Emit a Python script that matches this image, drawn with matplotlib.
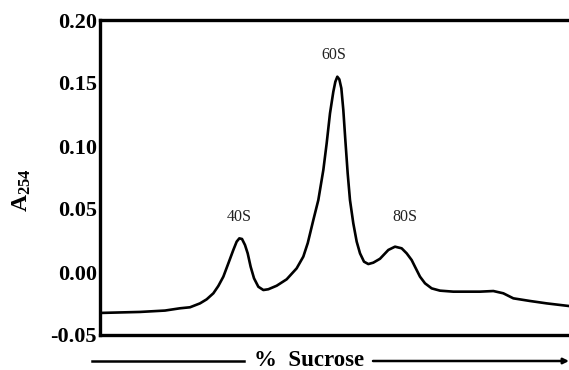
"""Sucrose gradient profile (A254) with 40S / 60S / 80S peaks."""

import numpy as np
import matplotlib
matplotlib.use("Agg")
import matplotlib.pyplot as plt
from matplotlib import rcParams
from matplotlib.ticker import FuncFormatter

rcParams["font.family"] = "Liberation Serif"
rcParams["mathtext.fontset"] = "custom"
rcParams["mathtext.rm"] = "Liberation Serif"
rcParams["mathtext.bf"] = "Liberation Serif:bold"

# position along the gradient (% of fractionated volume) and absorbance
position = [0.0, 8.53, 13.86, 17.06, 19.19, 21.32, 22.74, 24.17, 25.23,
            26.30, 27.37, 28.43, 29.14, 29.71, 30.28, 30.92, 31.49, 32.12,
            32.84, 33.76, 34.83, 35.89, 37.67, 39.80, 41.93, 43.35, 44.30,
            45.49, 46.55, 47.62, 48.33, 49.04, 49.75, 50.18, 50.60, 51.03,
            51.46, 51.88, 52.31, 52.81, 53.30, 54.01, 54.73, 55.44, 56.29,
            57.21, 58.27, 59.70, 61.48, 62.90, 64.32, 65.39, 66.45, 67.16,
            68.23, 69.30, 70.72, 72.49, 75.33, 81.02, 83.87, 85.99, 88.13,
            91.68, 95.24, 100.0]
a254 = [-0.0325, -0.0317, -0.0306, -0.0288, -0.0280, -0.0249, -0.0217,
        -0.0169, -0.0111, -0.0037, 0.0069, 0.0175, 0.0241, 0.0267, 0.0262,
        0.0214, 0.0148, 0.0042, -0.0050, -0.0117, -0.0143, -0.0137, -0.0109,
        -0.0058, 0.0029, 0.0122, 0.0230, 0.0413, 0.0571, 0.0810, 0.1021,
        0.1259, 0.1431, 0.1510, 0.1550, 0.1529, 0.1458, 0.1286, 0.1048,
        0.0783, 0.0571, 0.0386, 0.0241, 0.0148, 0.0082, 0.0063, 0.0074,
        0.0105, 0.0175, 0.0201, 0.0188, 0.0148, 0.0095, 0.0042, -0.0037,
        -0.0090, -0.0130, -0.0148, -0.0156, -0.0156, -0.0151, -0.0169,
        -0.0209, -0.0230, -0.0249, -0.0270]

peak_labels = ["40S", "60S", "80S"]
peak_x = [29.6, 49.9, 65.0]
peak_y = [0.0437, 0.172, 0.0437]

yticks = [-0.05, 0.00, 0.05, 0.10, 0.15, 0.20]

fig = plt.figure(figsize=(5.69, 3.70), dpi=100)
ax = fig.add_axes([100 / 569, 35 / 370, 469 / 569, 315 / 370])

ax.plot(position, a254, color="black", lw=1.9, solid_joinstyle="round",
        solid_capstyle="round")

for lab, x, y in zip(peak_labels, peak_x, peak_y):
    ax.text(x, y, lab, ha="center", va="center", fontsize=11.5, color="#222222")

ax.set_xlim(0, 100)
ax.set_ylim(-0.05, 0.20)
ax.set_yticks(yticks)
ax.yaxis.set_major_formatter(FuncFormatter(lambda v, p: f"{v:.2f}"))
ax.tick_params(axis="y", length=0, pad=2.2, labelsize=16)
for t in ax.get_yticklabels():
    t.set_fontweight("bold")
ax.set_xticks([])

ax.spines["right"].set_visible(False)
for s in ("left", "bottom", "top"):
    ax.spines[s].set_linewidth(2.4)

# y label (rotated A254)
fig.text(22 / 569, 1 - 190 / 370, r"$\mathbf{A_{254}}$", rotation=90,
         ha="center", va="center", fontsize=17)

# gradient direction arrow with "% Sucrose"
ly = 9
fig.add_artist(plt.Line2D([92 / 569, 244 / 569], [ly / 370, ly / 370],
                          color="black", lw=1.8))
ax.annotate("", xy=(569, ly), xytext=(373, ly), xycoords="figure pixels",
            textcoords="figure pixels",
            arrowprops=dict(arrowstyle="-|>", color="black", lw=1.8,
                            mutation_scale=8, shrinkA=0, shrinkB=0))
fig.text(309 / 569, 4 / 370, "%  Sucrose", ha="center", va="baseline",
         fontsize=16.5, fontweight="bold")

fig.savefig("out.png", dpi=100, facecolor="white")
